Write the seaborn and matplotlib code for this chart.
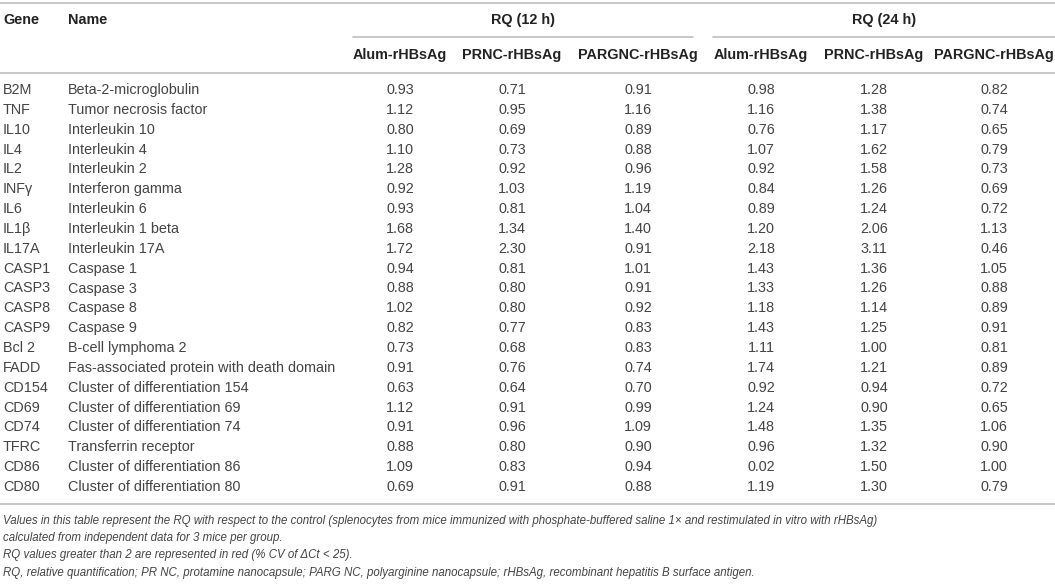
import matplotlib
matplotlib.use('Agg')
import matplotlib.pyplot as plt
import seaborn as sns
import pandas as pd

genes = ["B2M", "TNF", "IL10", "IL4", "IL2", "INFγ", "IL6", "IL1β", "IL17A", "CASP1",
         "CASP3", "CASP8", "CASP9", "Bcl 2", "FADD", "CD154", "CD69", "CD74", "TFRC",
         "CD86", "CD80"]
names = ["Beta-2-microglobulin", "Tumor necrosis factor", "Interleukin 10", "Interleukin 4",
         "Interleukin 2", "Interferon gamma", "Interleukin 6", "Interleukin 1 beta",
         "Interleukin 17A", "Caspase 1", "Caspase 3", "Caspase 8", "Caspase 9",
         "B-cell lymphoma 2", "Fas-associated protein with death domain",
         "Cluster of differentiation 154", "Cluster of differentiation 69",
         "Cluster of differentiation 74", "Transferrin receptor",
         "Cluster of differentiation 86", "Cluster of differentiation 80"]
rq12_alum = [0.93, 1.12, 0.80, 1.10, 1.28, 0.92, 0.93, 1.68, 1.72, 0.94, 0.88, 1.02, 0.82,
             0.73, 0.91, 0.63, 1.12, 0.91, 0.88, 1.09, 0.69]
rq12_prnc = [0.71, 0.95, 0.69, 0.73, 0.92, 1.03, 0.81, 1.34, 2.30, 0.81, 0.80, 0.80, 0.77,
             0.68, 0.76, 0.64, 0.91, 0.96, 0.80, 0.83, 0.91]
rq12_pargnc = [0.91, 1.16, 0.89, 0.88, 0.96, 1.19, 1.04, 1.40, 0.91, 1.01, 0.91, 0.92, 0.83,
               0.83, 0.74, 0.70, 0.99, 1.09, 0.90, 0.94, 0.88]
rq24_alum = [0.98, 1.16, 0.76, 1.07, 0.92, 0.84, 0.89, 1.20, 2.18, 1.43, 1.33, 1.18, 1.43,
             1.11, 1.74, 0.92, 1.24, 1.48, 0.96, 0.02, 1.19]
rq24_prnc = [1.28, 1.38, 1.17, 1.62, 1.58, 1.26, 1.24, 2.06, 3.11, 1.36, 1.26, 1.14, 1.25,
             1.00, 1.21, 0.94, 0.90, 1.35, 1.32, 1.50, 1.30]
rq24_pargnc = [0.82, 0.74, 0.65, 0.79, 0.73, 0.69, 0.72, 1.13, 0.46, 1.05, 0.88, 0.89, 0.91,
               0.81, 0.89, 0.72, 0.65, 1.06, 0.90, 1.00, 0.79]
group_labels = ["RQ (12 h)", "RQ (24 h)"]
sub_labels = ["Alum-rHBsAg", "PRNC-rHBsAg", "PARGNC-rHBsAg",
              "Alum-rHBsAg", "PRNC-rHBsAg", "PARGNC-rHBsAg"]
footnotes = [
    "Values in this table represent the RQ with respect to the control (splenocytes from mice immunized with phosphate-buffered saline 1× and restimulated in vitro with rHBsAg)",
    "calculated from independent data for 3 mice per group.",
    "RQ values greater than 2 are represented in red (% CV of ΔCt < 25).",
    "RQ, relative quantification; PR NC, protamine nanocapsule; PARG NC, polyarginine nanocapsule; rHBsAg, recombinant hepatitis B surface antigen.",
]

df = pd.DataFrame({"Gene": genes, "Name": names,
                   "a12": rq12_alum, "p12": rq12_prnc, "g12": rq12_pargnc,
                   "a24": rq24_alum, "p24": rq24_prnc, "g24": rq24_pargnc})
value_cols = ["a12", "p12", "g12", "a24", "p24", "g24"]

sns.set_theme(style="white")
plt.rcParams['font.family'] = ['Liberation Sans', 'DejaVu Sans']

fig = plt.figure(figsize=(10.55, 5.85), dpi=100)
ax = fig.add_axes([0, 0, 1, 1])
ax.set_xlim(0, 1055)
ax.set_ylim(585, 0)
ax.axis('off')

col_x = [400, 512, 638, 761, 874, 994]
gene_x, name_x = 3, 68
row0, row_h = 90, 19.85
fs = 10.4
body_c = '#444444'
head_c = '#222222'
line_c = '#bdbdbd'
lw = 1.2

# rules
ax.plot([0, 1055], [2.5, 2.5], color=line_c, lw=lw)
ax.plot([353, 693], [37, 37], color=line_c, lw=lw)
ax.plot([713, 1055], [37, 37], color=line_c, lw=lw)
ax.plot([0, 1055], [73, 73], color=line_c, lw=lw)
ax.plot([0, 1055], [504, 504], color=line_c, lw=lw)

# headers
ax.text(gene_x, 20, "Gene", ha='left', va='center', fontsize=fs, fontweight='bold', color=head_c)
ax.text(name_x, 20, "Name", ha='left', va='center', fontsize=fs, fontweight='bold', color=head_c)
ax.text((353 + 693) / 2, 20, group_labels[0], ha='center', va='center', fontsize=fs,
        fontweight='bold', color=head_c)
ax.text((713 + 1055) / 2, 20, group_labels[1], ha='center', va='center', fontsize=fs,
        fontweight='bold', color=head_c)
for x, lab in zip(col_x, sub_labels):
    ax.text(x, 55, lab, ha='center', va='center', fontsize=fs, fontweight='bold', color=head_c)

# body
for i, row in df.iterrows():
    y = row0 + i * row_h
    ax.text(gene_x, y, row["Gene"], ha='left', va='center', fontsize=fs, color=body_c)
    ax.text(name_x, y, row["Name"], ha='left', va='center', fontsize=fs, color=body_c)
    for x, c in zip(col_x, value_cols):
        ax.text(x, y, f"{row[c]:.2f}", ha='center', va='center', fontsize=fs, color=body_c)

# footnotes
for k, t in enumerate(footnotes):
    ax.text(gene_x, 521 + k * 17.2, t, ha='left', va='center', fontsize=8.3,
            style='italic', color=body_c)

fig.savefig("out.png", dpi=100)
